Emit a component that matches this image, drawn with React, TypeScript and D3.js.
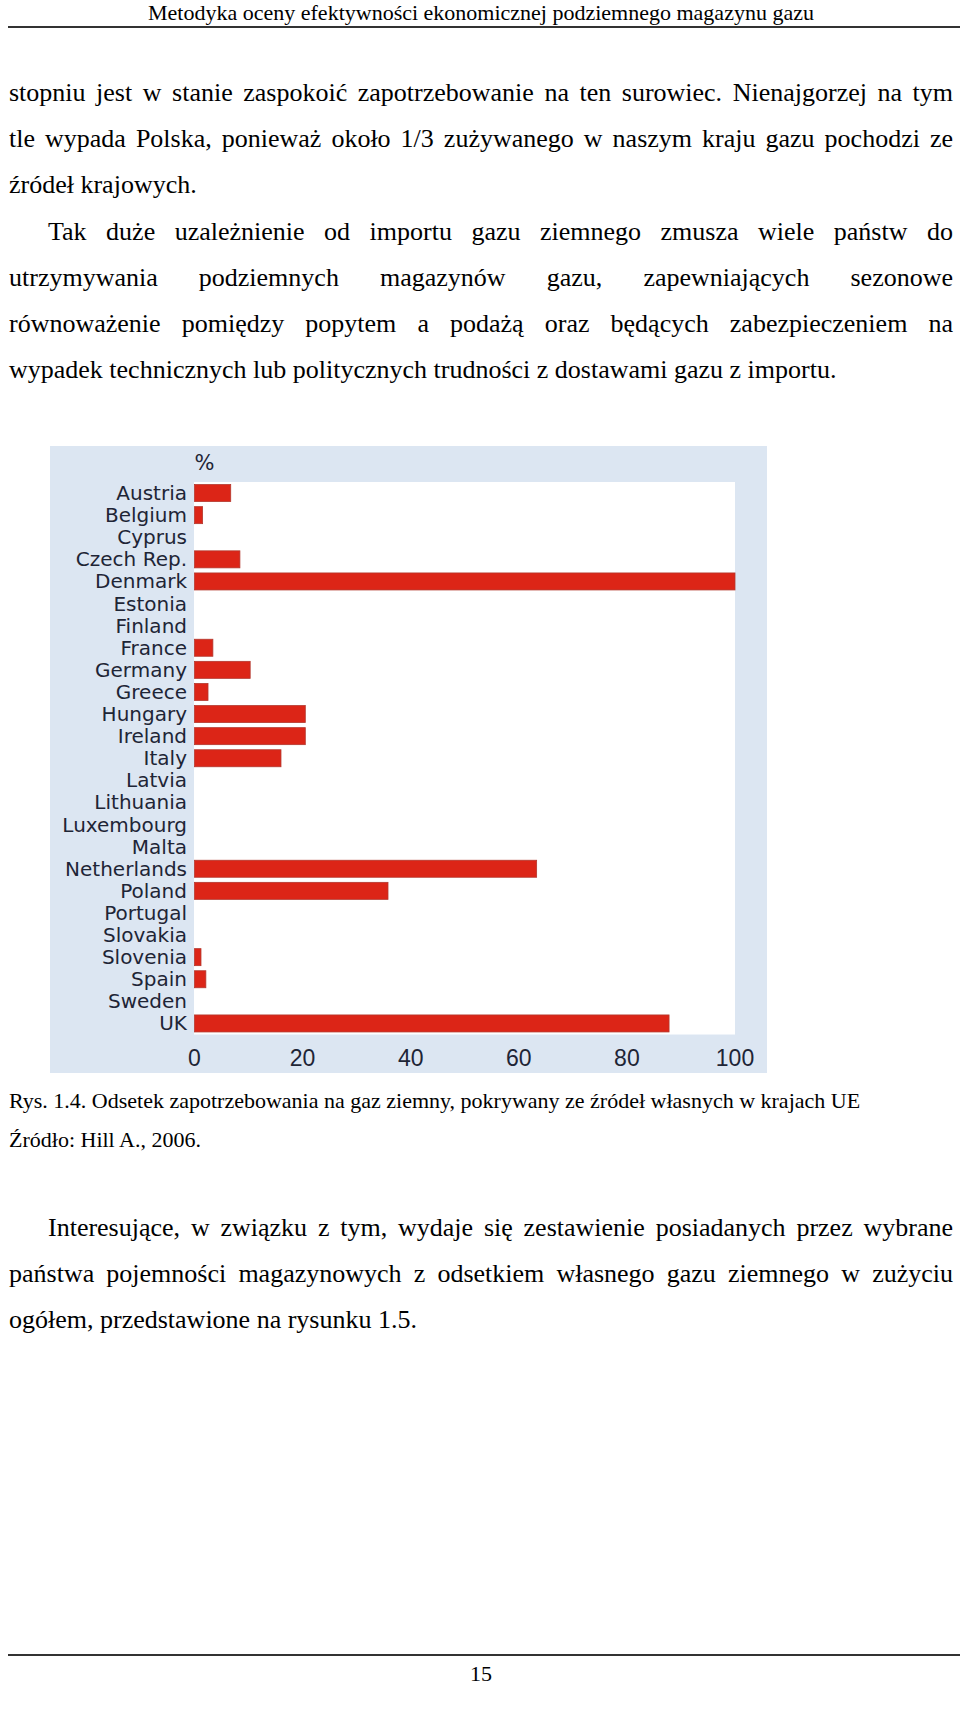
import React from "react";
import * as d3 from "d3";

// dane z wykresu
const countries = [
  "Austria", "Belgium", "Cyprus", "Czech Rep.", "Denmark", "Estonia", "Finland",
  "France", "Germany", "Greece", "Hungary", "Ireland", "Italy", "Latvia",
  "Lithuania", "Luxembourg", "Malta", "Netherlands", "Poland", "Portugal",
  "Slovakia", "Slovenia", "Spain", "Sweden", "UK",
];
const ownSupplyPct = [
  6.7, 1.5, 0, 8.4, 100, 0, 0,
  3.4, 10.3, 2.5, 20.5, 20.5, 16, 0,
  0, 0, 0, 63.3, 35.8, 0,
  0, 1.2, 2.1, 0, 87.8,
];
const xTicks = [0, 20, 40, 60, 80, 100];

const headerText = "Metodyka oceny efektywności ekonomicznej podziemnego magazynu gazu";
const pageNumber = "15";

// [tekst, wyjustowany?, wcięcie?]
const paraTop: [string, boolean, boolean][] = [
  ["stopniu jest w stanie zaspokoić zapotrzebowanie na ten surowiec. Nienajgorzej na tym", true, false],
  ["tle wypada Polska, ponieważ około 1/3 zużywanego w naszym kraju gazu pochodzi ze", true, false],
  ["źródeł krajowych.", false, false],
  ["Tak duże uzależnienie od importu gazu ziemnego zmusza wiele państw do", true, true],
  ["utrzymywania podziemnych magazynów gazu, zapewniających sezonowe", true, false],
  ["równoważenie pomiędzy popytem a podażą oraz będących zabezpieczeniem na", true, false],
  ["wypadek technicznych lub politycznych trudności z dostawami gazu z importu.", false, false],
];
const captionLines = [
  "Rys. 1.4. Odsetek zapotrzebowania na gaz ziemny, pokrywany ze źródeł własnych w krajach UE",
  "Źródło: Hill A., 2006.",
];
const paraBottom: [string, boolean, boolean][] = [
  ["Interesujące, w związku z tym, wydaje się zestawienie posiadanych przez wybrane", true, true],
  ["państwa pojemności magazynowych z odsetkiem własnego gazu ziemnego w zużyciu", true, false],
  ["ogółem, przedstawione na rysunku 1.5.", false, false],
];

const serif = "'Liberation Serif', 'Times New Roman', serif";
const sans = "'DejaVu Sans', sans-serif";

let ctx: CanvasRenderingContext2D | null = null;
function measure(text: string, font: string) {
  if (!ctx) ctx = document.createElement("canvas").getContext("2d");
  ctx!.font = font;
  return ctx!.measureText(text).width;
}

function TextLine({ text, justify, x0, x1, y, size }: any) {
  if (!justify) {
    return (
      <text x={x0} y={y} fontFamily={serif} fontSize={size} fill="#000">
        {text}
      </text>
    );
  }
  const words = text.split(" ");
  const font = `${size}px ${serif}`;
  const widths = words.map((w: string) => measure(w, font));
  const gap = (x1 - x0 - d3.sum(widths)) / (words.length - 1);
  let cx = x0;
  return (
    <g>
      {words.map((w: string, i: number) => {
        const el = (
          <text key={i} x={cx} y={y} fontFamily={serif} fontSize={size} fill="#000">
            {w}
          </text>
        );
        cx += widths[i] + gap;
        return el;
      })}
    </g>
  );
}

export default function App() {
  const W = 960;
  const H = 1714;
  const textLeft = 9;
  const textRight = 953;
  const indent = 48;
  const bodySize = 26;

  // wykres
  const panel = { x: 50, y: 446, w: 717, h: 627 };
  const x = d3.scaleLinear().domain([0, 100]).range([194.5, 735]);
  const y = d3
    .scaleBand()
    .domain(countries)
    .range([482, 1034.5])
    .paddingInner(0.23)
    .paddingOuter(0.115);

  const topBase = [101, 147, 193, 240, 286, 332, 378];
  const bottomBase = [1236, 1282, 1328];

  return (
    <div style={{ position: "absolute", left: 0, top: 0, width: W, height: H, background: "#fff" }}>
      <svg width={W} height={H} style={{ display: "block" }}>
        <rect width={W} height={H} fill="#fff" />
        {/* nagłówek */}
        <text x={481} y={20} textAnchor="middle" fontFamily={serif} fontSize={22} fill="#000">
          {headerText}
        </text>
        <line x1={8} x2={960} y1={27} y2={27} stroke="#333" strokeWidth={2} />

        {paraTop.map(([t, j, ind], i) => (
          <TextLine key={"a" + i} text={t} justify={j} x0={ind ? indent : textLeft} x1={textRight} y={topBase[i]} size={bodySize} />
        ))}

        {/* wykres */}
        <rect x={panel.x} y={panel.y} width={panel.w} height={panel.h} fill="#dce6f2" />
        <rect x={x(0) - 0.5} y={y.range()[0]} width={x(100) - x(0) + 0.5} height={y.range()[1] - y.range()[0]} fill="#fff" />
        <text x={x(0) + 10} y={463} textAnchor="middle" dominantBaseline="central" fontFamily={sans} fontSize={21} fill="#1e2536">
          %
        </text>
        {countries.map((c, i) => (
          <g key={c}>
            <text
              x={187}
              y={(y(c) as number) + y.bandwidth() / 2}
              textAnchor="end"
              dominantBaseline="central"
              fontFamily={sans}
              fontSize={20}
              fill="#1e2536"
            >
              {c}
            </text>
            {ownSupplyPct[i] > 0 && (
              <rect
                x={x(0)}
                y={y(c)}
                width={x(ownSupplyPct[i]) - x(0)}
                height={y.bandwidth()}
                fill="#dc2517"
                stroke="#b3382e"
                strokeWidth={0.8}
              />
            )}
          </g>
        ))}
        {xTicks.map((t) => (
          <text
            key={t}
            x={x(t)}
            y={1058}
            textAnchor="middle"
            dominantBaseline="central"
            fontFamily="'Liberation Sans', Arial, sans-serif"
            fontSize={23}
            fill="#1e2536"
          >
            {t}
          </text>
        ))}

        {/* podpis */}
        <text x={textLeft} y={1108} fontFamily={serif} fontSize={22} fill="#000">
          {captionLines[0]}
        </text>
        <text x={textLeft} y={1147} fontFamily={serif} fontSize={22} fill="#000">
          {captionLines[1]}
        </text>

        {paraBottom.map(([t, j, ind], i) => (
          <TextLine key={"b" + i} text={t} justify={j} x0={ind ? indent : textLeft} x1={textRight} y={bottomBase[i]} size={bodySize} />
        ))}

        {/* stopka */}
        <line x1={8} x2={960} y1={1655} y2={1655} stroke="#333" strokeWidth={2} />
        <text x={481} y={1681} textAnchor="middle" fontFamily={serif} fontSize={22} fill="#000">
          {pageNumber}
        </text>
      </svg>
    </div>
  );
}
